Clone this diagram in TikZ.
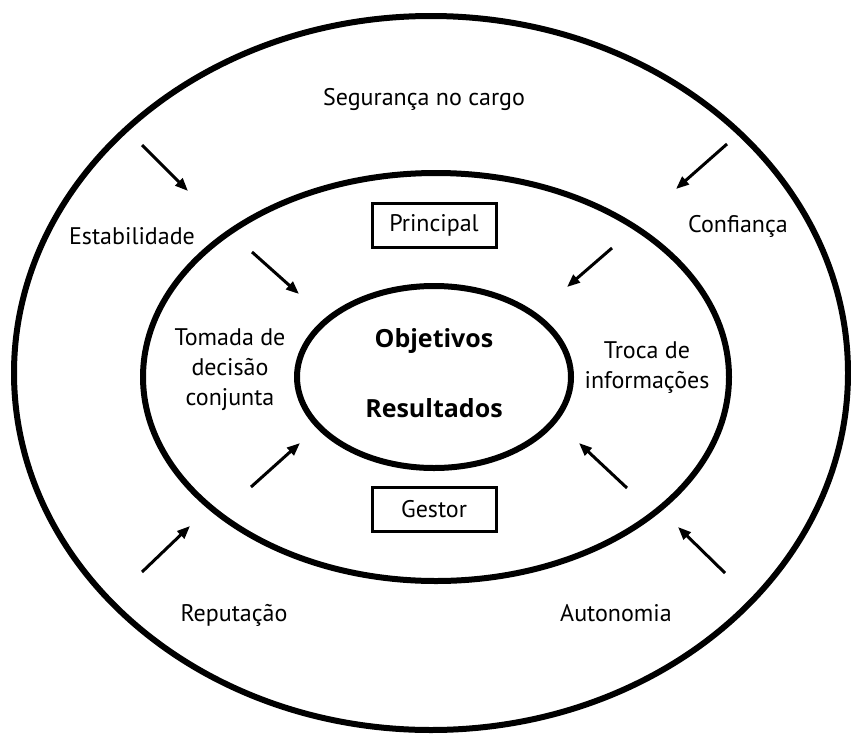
\documentclass[tikz,border=0pt]{standalone}
\usepackage{fontspec}
\setmainfont{PT Sans}
\newfontfamily\centrofont{Open Sans}
\usetikzlibrary{arrows.meta}

\tikzset{
  anel/.style={line width=6pt},
  seta/.style={-{Triangle[length=13pt,width=10pt]}, line width=3pt},
  caixa/.style={draw, line width=3pt, minimum width=124pt, minimum height=44pt, inner sep=0pt},
  rotulo/.style={align=center, inner sep=0pt}
}

\begin{document}
\begin{tikzpicture}[x=1pt, y=-1pt, font=\fontsize{24}{30}\selectfont]
\useasboundingbox (0,0) rectangle (851,736);
% three rings
\draw[anel] (431,373) ellipse [x radius=417, y radius=357];
\draw[anel] (436,377) ellipse [x radius=293, y radius=204];
\draw[anel] (434,377) ellipse [x radius=137, y radius=91];

\node[rotulo](seg) at (424,99) {Segurança no cargo};
\node[rotulo](est) at (132,236) {Estabilidade};
\node[rotulo](conf) at (738,226) {Confiança};
\node[rotulo](rep) at (234,615) {Reputação};
\node[rotulo](aut) at (616,613) {Autonomia};
\node[rotulo](tom) at (230,370) {Tomada de\\decisão\\conjunta};
\node[rotulo](troca) at (647,368) {Troca de\\informações};
\node[caixa](prin) at (434,225) {Principal};
\node[caixa](gest) at (434,509) {Gestor};
\node[rotulo, font=\centrofont\bfseries\fontsize{25}{30}\selectfont](obj) at (434,341) {Objetivos};
\node[rotulo, font=\centrofont\bfseries\fontsize{25}{30}\selectfont](res) at (434,408) {Resultados};

% arrows towards the centre
\coordinate(a1) at (142,145); \coordinate(b1) at (188,191);
\coordinate(a2) at (252,252); \coordinate(b2) at (299,294);
\coordinate(a3) at (727,144); \coordinate(b3) at (676,189);
\coordinate(a4) at (612,248); \coordinate(b4) at (567,287);
\coordinate(a5) at (142,572); \coordinate(b5) at (190,526);
\coordinate(a6) at (251,487); \coordinate(b6) at (300,443);
\coordinate(a7) at (725,573); \coordinate(b7) at (678,527);
\coordinate(a8) at (627,488); \coordinate(b8) at (579,443);
\path[seta]
(a1) edge (b1) (a2) edge (b2)
(a3) edge (b3) (a4) edge (b4)
(a5) edge (b5) (a6) edge (b6)
(a7) edge (b7) (a8) edge (b8);
\end{tikzpicture}
\end{document}
